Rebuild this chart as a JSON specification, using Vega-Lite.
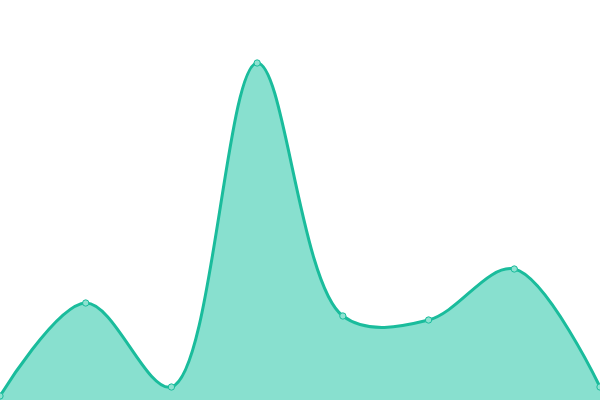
{
  "$schema": "https://vega.github.io/schema/vega-lite/v6.json",
  "width": 600,
  "height": 400,
  "padding": 0,
  "autosize": {"type": "fit", "contains": "padding"},
  "config": {"view": {"stroke": null}},
  "data": {"values": [
    {"i": 0, "v": 4},
    {"i": 1, "v": 97},
    {"i": 2, "v": 13},
    {"i": 3, "v": 337},
    {"i": 4, "v": 84},
    {"i": 5, "v": 80},
    {"i": 6, "v": 131},
    {"i": 7, "v": 13}
  ]},
  "encoding": {
    "x": {"field": "i", "type": "quantitative", "scale": {"domain": [0, 7], "nice": false, "zero": false}, "axis": null},
    "y": {"field": "v", "type": "quantitative", "scale": {"domain": [0, 400], "nice": false}, "axis": null}
  },
  "layer": [
    {"mark": {"type": "area", "interpolate": "catmull-rom", "color": "#88e0cf", "opacity": 1, "clip": true}},
    {"mark": {"type": "line", "interpolate": "catmull-rom", "color": "#1abc9c", "strokeWidth": 3, "clip": true}},
    {"mark": {"type": "point", "filled": true, "fill": "#8ee2d1", "stroke": "#1abc9c", "strokeWidth": 1, "size": 40, "opacity": 1, "clip": true}}
  ]
}
